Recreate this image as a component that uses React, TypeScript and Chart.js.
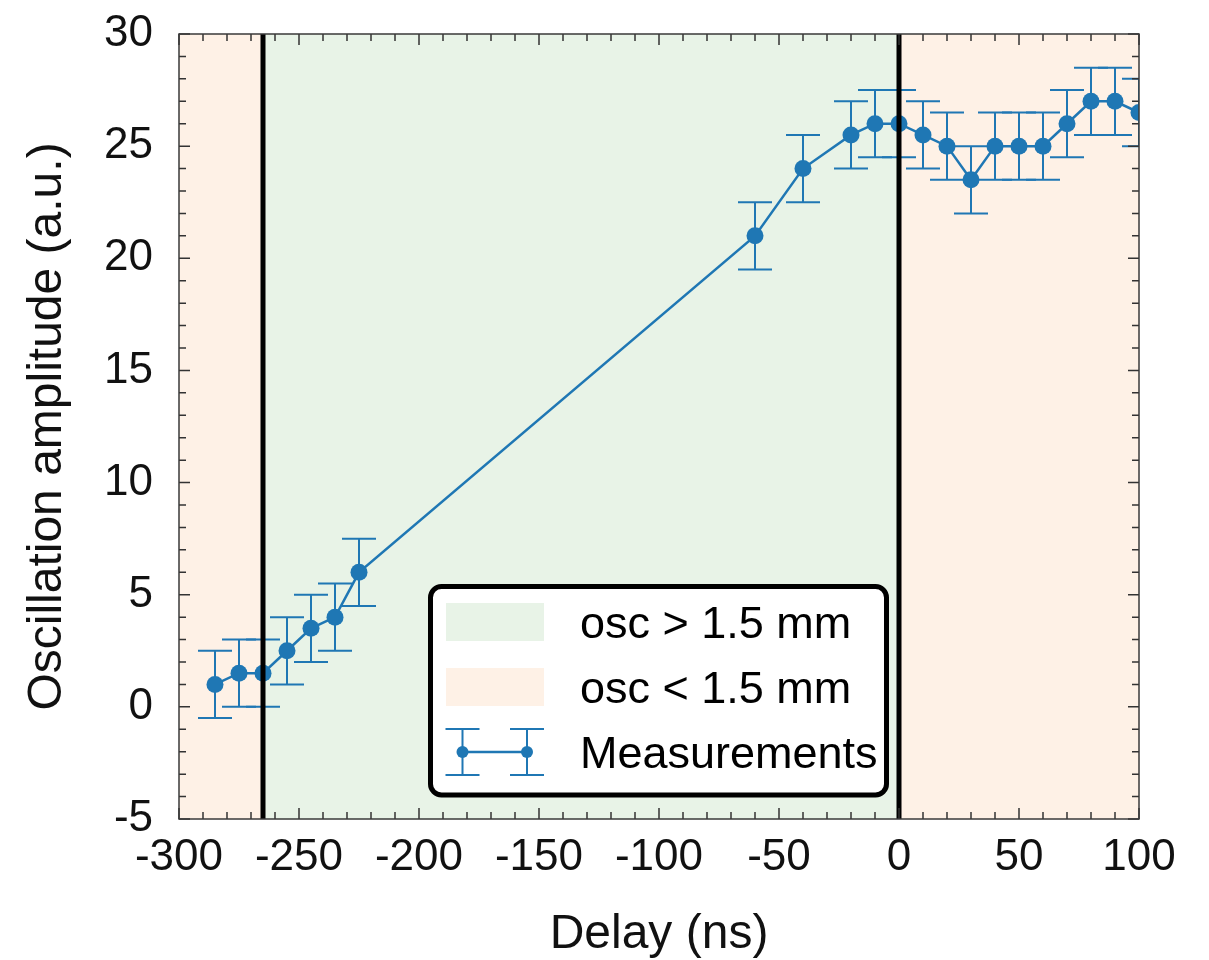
import React, { useEffect, useRef } from "react";
import { Chart, registerables } from "chart.js";

Chart.register(...registerables);

// ---- data ----
const delays = [-285, -275, -265, -255, -245, -235, -225, -60, -40, -20, -10, 0, 10, 20, 30, 40, 50, 60, 70, 80, 90, 100];
const amplitudes = [1, 1.5, 1.5, 2.5, 3.5, 4, 6, 21, 24, 25.5, 26, 26, 25.5, 25, 23.5, 25, 25, 25, 26, 27, 27, 26.5];
const amplitudeErrors = [1.5, 1.5, 1.5, 1.5, 1.5, 1.5, 1.5, 1.5, 1.5, 1.5, 1.5, 1.5, 1.5, 1.5, 1.5, 1.5, 1.5, 1.5, 1.5, 1.5, 1.5, 1.5];

const xTickLabels = [-300, -250, -200, -150, -100, -50, 0, 50, 100];
const yTickLabels = [-5, 0, 5, 10, 15, 20, 25, 30];

const regionStarts = [-300, -265, 0];
const regionEnds = [-265, 0, 100];
const regionKinds = ["low", "high", "low"];
const boundaryLines = [-265, 0];

const legendLabels = ["osc > 1.5 mm", "osc < 1.5 mm", "Measurements"];

// ---- styles ----
const FONT = '"Liberation Sans", Arial, Helvetica, sans-serif';
const BLUE = "#1f77b4";
const GREEN_BG = "#e8f3e7";
const ORANGE_BG = "#fef1e6";
const TICK_COLOR = "#333333";

const decorPlugin = {
  id: "decor",
  beforeDatasetsDraw(chart: any) {
    const { ctx, chartArea: a, scales } = chart;
    const x = scales.x;
    const y = scales.y;
    ctx.save();
    // shaded regions
    for (let i = 0; i < regionStarts.length; i++) {
      const x0 = x.getPixelForValue(regionStarts[i]);
      const x1 = x.getPixelForValue(regionEnds[i]);
      ctx.fillStyle = regionKinds[i] === "high" ? GREEN_BG : ORANGE_BG;
      ctx.fillRect(x0, a.top, x1 - x0, a.bottom - a.top);
    }
    // error bars
    ctx.beginPath();
    ctx.rect(a.left, a.top, a.right - a.left, a.bottom - a.top);
    ctx.clip();
    ctx.strokeStyle = BLUE;
    ctx.lineWidth = 2;
    const cap = 17;
    for (let i = 0; i < delays.length; i++) {
      const px = x.getPixelForValue(delays[i]);
      const yt = y.getPixelForValue(amplitudes[i] + amplitudeErrors[i]);
      const yb = y.getPixelForValue(amplitudes[i] - amplitudeErrors[i]);
      ctx.beginPath();
      ctx.moveTo(px, yt);
      ctx.lineTo(px, yb);
      ctx.moveTo(px - cap, yt);
      ctx.lineTo(px + cap, yt);
      ctx.moveTo(px - cap, yb);
      ctx.lineTo(px + cap, yb);
      ctx.stroke();
    }
    ctx.restore();
  },
  afterDatasetsDraw(chart: any) {
    const { ctx, chartArea: a, scales } = chart;
    const x = scales.x;
    const y = scales.y;
    ctx.save();
    // boundary lines
    ctx.strokeStyle = "#000";
    ctx.lineWidth = 5;
    for (const b of boundaryLines) {
      const px = x.getPixelForValue(b);
      ctx.beginPath();
      ctx.moveTo(px, a.top);
      ctx.lineTo(px, a.bottom);
      ctx.stroke();
    }
    // ticks (inward, all four sides)
    ctx.strokeStyle = TICK_COLOR;
    ctx.lineWidth = 1.5;
    const major = 11;
    const minor = 7;
    ctx.beginPath();
    for (let v = x.min; v <= x.max + 1e-9; v += 10) {
      const px = x.getPixelForValue(v);
      const len = Math.abs(v % 50) < 1e-9 ? major : minor;
      ctx.moveTo(px, a.bottom);
      ctx.lineTo(px, a.bottom - len);
      ctx.moveTo(px, a.top);
      ctx.lineTo(px, a.top + len);
    }
    for (let v = y.min; v <= y.max + 1e-9; v += 1) {
      const py = y.getPixelForValue(v);
      const len = Math.abs(v % 5) < 1e-9 ? major : minor;
      ctx.moveTo(a.left, py);
      ctx.lineTo(a.left + len, py);
      ctx.moveTo(a.right, py);
      ctx.lineTo(a.right - len, py);
    }
    ctx.stroke();
    // spines
    ctx.strokeStyle = "#3a3a3a";
    ctx.lineWidth = 1.5;
    ctx.strokeRect(a.left, a.top, a.right - a.left, a.bottom - a.top);

    // legend
    const lx = a.left + 251.5;
    const ly = a.top + 552.5;
    const lw = 456;
    const lh = 208.5;
    ctx.beginPath();
    ctx.roundRect(lx, ly, lw, lh, 11);
    ctx.fillStyle = "#ffffff";
    ctx.fill();
    ctx.lineWidth = 5;
    ctx.strokeStyle = "#000";
    ctx.stroke();

    const patchX = a.left + 267;
    ctx.fillStyle = GREEN_BG;
    ctx.fillRect(patchX, a.top + 569, 98, 38);
    ctx.fillStyle = ORANGE_BG;
    ctx.fillRect(patchX, a.top + 634, 98, 38);

    // errorbar legend icon
    const iy = a.top + 718;
    const m1 = a.left + 283.5;
    const m2 = a.left + 348;
    ctx.strokeStyle = BLUE;
    ctx.lineWidth = 2.5;
    ctx.beginPath();
    ctx.moveTo(m1, iy);
    ctx.lineTo(m2, iy);
    ctx.stroke();
    ctx.lineWidth = 2;
    ctx.beginPath();
    for (const mx of [m1, m2]) {
      ctx.moveTo(mx, iy - 23);
      ctx.lineTo(mx, iy + 23);
      ctx.moveTo(mx - 17, iy - 23);
      ctx.lineTo(mx + 17, iy - 23);
      ctx.moveTo(mx - 17, iy + 23);
      ctx.lineTo(mx + 17, iy + 23);
    }
    ctx.stroke();
    ctx.fillStyle = BLUE;
    for (const mx of [m1, m2]) {
      ctx.beginPath();
      ctx.arc(mx, iy, 6, 0, Math.PI * 2);
      ctx.fill();
    }

    ctx.fillStyle = "#000";
    ctx.font = `45px ${FONT}`;
    ctx.textAlign = "left";
    ctx.textBaseline = "alphabetic";
    const tx = a.left + 401;
    ctx.fillText(legendLabels[0], tx, a.top + 604);
    ctx.fillText(legendLabels[1], tx, a.top + 669);
    ctx.fillText(legendLabels[2], tx, a.top + 733.5);
    ctx.restore();
  },
};

export default function App() {
  const canvasRef = useRef<HTMLCanvasElement | null>(null);

  useEffect(() => {
    const canvas = canvasRef.current;
    if (!canvas) return;
    const chart = new Chart(canvas, {
      type: "line",
      data: {
        datasets: [
          {
            label: legendLabels[2],
            data: delays.map((d, i) => ({ x: d, y: amplitudes[i] })),
            borderColor: BLUE,
            backgroundColor: BLUE,
            borderWidth: 2.5,
            pointRadius: 8.5,
            pointHoverRadius: 8.5,
            pointBackgroundColor: BLUE,
            pointBorderWidth: 0,
            tension: 0,
            fill: false,
            clip: 0,
          } as any,
        ],
      },
      options: {
        responsive: false,
        animation: false,
        events: [],
        layout: { padding: { top: 34, right: 70, bottom: 0, left: 0 } },
        plugins: {
          legend: { display: false },
          tooltip: { enabled: false },
          title: { display: false },
        },
        scales: {
          x: {
            type: "linear",
            min: -300,
            max: 100,
            grid: { display: false, drawTicks: false },
            border: { display: false },
            afterBuildTicks: (scale: any) => {
              scale.ticks = xTickLabels.map((v) => ({ value: v }));
            },
            afterFit: (scale: any) => {
              scale.height = 141;
            },
            ticks: {
              padding: 12,
              maxRotation: 0,
              autoSkip: false,
              color: "#111",
              font: { family: FONT, size: 44 },
              callback: (v: any) => String(v),
            },
            title: {
              display: true,
              text: "Delay (ns)",
              color: "#111",
              font: { family: FONT, size: 48 },
              padding: { top: 0, bottom: -4 },
            },
          },
          y: {
            type: "linear",
            min: -5,
            max: 30,
            grid: { display: false, drawTicks: false },
            border: { display: false },
            afterBuildTicks: (scale: any) => {
              scale.ticks = yTickLabels.map((v) => ({ value: v }));
            },
            afterFit: (scale: any) => {
              scale.width = 179;
            },
            ticks: {
              padding: 26,
              autoSkip: false,
              color: "#111",
              font: { family: FONT, size: 44, lineHeight: 0.1 },
              callback: (v: any) => String(v),
            },
            title: {
              display: true,
              text: "Oscillation amplitude (a.u.)",
              color: "#111",
              font: { family: FONT, size: 48 },
              padding: { top: 19, bottom: 0 },
            },
          },
        },
      },
      plugins: [decorPlugin],
    });
    return () => chart.destroy();
  }, []);

  return (
    <div style={{ position: "absolute", left: 0, top: 0, width: 1209, height: 960, background: "#fff" }}>
      <canvas ref={canvasRef} width={1209} height={960} style={{ display: "block", width: 1209, height: 960 }} />
    </div>
  );
}
